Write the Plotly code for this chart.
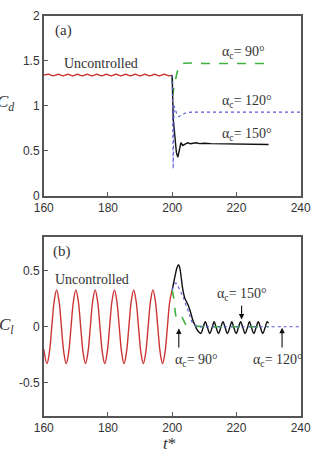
import plotly.graph_objects as go

# ---------------- data ----------------
# (a) drag coefficient, uncontrolled (t*=160..200)
t_cd_unc = [160, 161.5, 163, 164.5, 166, 167.5, 169, 170.5, 172, 173.5, 175, 176.5, 178,
            179.5, 181, 182.5, 184, 185.5, 187, 188.5, 190, 191.5, 193, 194.5, 196, 197.5,
            199, 200]
cd_unc = [1.34, 1.35, 1.333, 1.35, 1.333, 1.35, 1.333, 1.35, 1.333, 1.35, 1.333, 1.35, 1.333,
          1.35, 1.333, 1.35, 1.333, 1.35, 1.333, 1.35, 1.333, 1.35, 1.333, 1.35, 1.333, 1.35,
          1.333, 1.34]

t_cd_90 = [200, 200.15, 200.5, 201.0, 201.5, 202.0, 202.5, 203.0, 203.7, 204.5, 206, 210, 220, 230]
cd_90 = [1.34, 1.12, 1.20, 1.30, 1.37, 1.42, 1.45, 1.465, 1.472, 1.475, 1.475, 1.47, 1.47, 1.47]

t_cd_120 = [200, 200.15, 200.3, 200.6, 201.0, 201.5, 202.0, 202.7, 203.5, 204.5, 206, 210, 220, 240]
cd_120 = [1.34, 0.60, 0.30, 1.00, 0.96, 0.90, 0.88, 0.89, 0.91, 0.925, 0.93, 0.93, 0.93, 0.93]

t_cd_150 = [200, 200.15, 200.3, 200.6, 200.9, 201.3, 201.75, 202.2, 202.7, 203.3, 204.0,
            204.8, 205.6, 206.5, 207.5, 208.5, 210, 212, 214, 216, 218, 220, 222, 225, 230]
cd_150 = [1.34, 0.95, 0.85, 0.75, 0.62, 0.48, 0.43, 0.52, 0.59, 0.56, 0.57,
          0.59, 0.58, 0.585, 0.59, 0.58, 0.585, 0.58, 0.578, 0.58, 0.575, 0.577, 0.575, 0.572, 0.57]

# (b) lift coefficient, uncontrolled
t_cl_unc = [160, 161, 161.75, 162.5, 163.25, 164, 164.75, 165.5, 166.25, 167, 167.75, 168.5,
            169.25, 170, 170.75, 171.5, 172.25, 173, 173.75, 174.5, 175.25, 176, 176.75,
            177.5, 178.25, 179, 179.75, 180.5, 181.25, 182, 182.75, 183.5, 184.25, 185,
            185.75, 186.5, 187.25, 188, 188.75, 189.5, 190.25, 191, 191.75, 192.5, 193.25,
            194, 194.75, 195.5, 196.25, 197, 197.75, 198.5, 199.25, 200]
cl_unc = [-0.20, -0.33, -0.23, 0, 0.23, 0.33, 0.23, 0, -0.23, -0.33, -0.23, 0,
          0.23, 0.33, 0.23, 0, -0.23, -0.33, -0.23, 0, 0.23, 0.33, 0.23,
          0, -0.23, -0.33, -0.23, 0, 0.23, 0.33, 0.23, 0, -0.23, -0.33,
          -0.23, 0, 0.23, 0.33, 0.23, 0, -0.23, -0.33, -0.23, 0, 0.23,
          0.33, 0.23, 0, -0.23, -0.33, -0.23, 0, 0.23, 0.33]

t_cl_90 = [200, 200.5, 201.0, 201.5, 202.0, 202.5, 203.0, 203.5, 204.0, 204.5, 205.5, 207, 210, 220, 230]
cl_90 = [0.33, 0.25, 0.12, 0.06, 0.07, 0.08, 0.085, 0.06, 0.03, 0.015, 0.01, 0.005, 0.0, 0.0, 0.0]

t_cl_120 = [200, 200.5, 201.1, 201.7, 202.3, 203.0, 203.5, 204.2, 205.0, 205.7, 206.4, 207.2, 208, 210, 220, 240]
cl_120 = [0.33, 0.37, 0.39, 0.37, 0.33, 0.29, 0.26, 0.20, 0.14, 0.08, 0.03, 0.01, 0.0, 0.0, 0.0, 0.0]

t_cl_150 = [200, 200.5, 201, 201.5, 202, 202.4, 202.8, 203.2, 203.6, 204, 204.5, 205, 205.5,
            206, 206.5, 207, 207.6, 208.2, 208.9, 209.6, 210.3, 211.0, 211.7, 212.4, 213.05,
            213.7, 214.4, 215.1, 215.8, 216.5, 217.2, 217.9, 218.55, 219.2, 219.9, 220.6,
            221.3, 222.0, 222.7, 223.4, 224.05, 224.7, 225.4, 226.1, 226.8, 227.5, 228.2,
            228.9, 229.55, 230]
cl_150 = [0.33, 0.40, 0.47, 0.53, 0.555, 0.52, 0.44, 0.35, 0.29, 0.25, 0.22, 0.19, 0.15,
          0.10, 0.05, 0.02, -0.02, -0.045, -0.06, -0.01, 0.045, -0.01, -0.06, -0.01, 0.045,
          -0.01, -0.06, -0.01, 0.045, -0.01, -0.06, -0.01, 0.045, -0.01, -0.06, -0.01,
          0.045, -0.01, -0.06, -0.01, 0.045, -0.01, -0.06, -0.01, 0.045, -0.01, -0.06,
          -0.01, 0.045, 0.03]

x_ticks = [160, 180, 200, 220, 240]
cd_ticks = [0, 0.5, 1, 1.5, 2]
cd_ticktext = ["0", "0.5", "1", "1.5", "2"]
cl_ticks = [-0.5, 0, 0.5]
cl_ticktext = ["-0.5", "0", "0.5"]

# ---------------- styles ----------------
RED = "#cc3535"
GREEN = "#3fb23f"
BLUE = "#5a5ad8"
BLACK = "#111111"
FRAME = "#555555"
TXT = "#333333"
SERIF = "Liberation Serif"
SANS = "Liberation Sans"

fig = go.Figure()

def add(t, v, color, dash, width, xa, ya, shape="linear"):
    fig.add_trace(go.Scatter(x=t, y=v, mode="lines", xaxis=xa, yaxis=ya,
                             line=dict(color=color, dash=dash, width=width, shape=shape),
                             showlegend=False, hoverinfo="skip"))

# panel (a)
add(t_cd_unc, cd_unc, RED, "solid", 1.4, "x", "y", "spline")
add(t_cd_90, cd_90, GREEN, "dash", 1.6, "x", "y")
add(t_cd_150, cd_150, BLACK, "solid", 1.4, "x", "y")
add(t_cd_120, cd_120, BLUE, "dot", 1.1, "x", "y")
# panel (b)
add(t_cl_unc, cl_unc, RED, "solid", 1.4, "x2", "y2", "spline")
add(t_cl_150, cl_150, BLACK, "solid", 1.4, "x2", "y2", "spline")
add(t_cl_90, cl_90, GREEN, "dash", 1.6, "x2", "y2", "spline")
add(t_cl_120, cl_120, BLUE, "dot", 1.1, "x2", "y2", "spline")

W, H = 321, 449
xdom = [36 / W, 310 / W]
axis_common = dict(showgrid=False, zeroline=False, showline=True, mirror=True,
                   linecolor=FRAME, linewidth=1.5, ticks="inside", ticklen=4,
                   tickcolor=FRAME, tickwidth=1,
                   tickfont=dict(family=SANS, size=12, color=TXT))

fig.update_layout(
    width=W, height=H,
    margin=dict(l=0, r=0, t=0, b=0),
    paper_bgcolor="white", plot_bgcolor="white",
    xaxis=dict(domain=xdom, range=[160, 240], tickvals=x_ticks, anchor="y", **axis_common),
    yaxis=dict(domain=[1 - 195 / H, 1 - 9 / H], range=[0, 2], tickvals=cd_ticks,
               ticktext=cd_ticktext, anchor="x", **axis_common),
    xaxis2=dict(domain=xdom, range=[160, 240], tickvals=x_ticks, anchor="y2", **axis_common),
    yaxis2=dict(domain=[1 - 422.3 / H, 1 - 237.7 / H], range=[-0.8, 0.8], tickvals=cl_ticks,
                ticktext=cl_ticktext, anchor="x2", **axis_common),
)

def txt(x, y, s, xref="x", yref="y", size=13, family=SERIF, **kw):
    fig.add_annotation(x=x, y=y, xref=xref, yref=yref, text=s, showarrow=False,
                       font=dict(family=family, size=size, color=TXT), **kw)

# panel (a) labels
txt(166.1, 1.84, "(a)", size=15)
txt(177.8, 1.475, "Uncontrolled", size=14)
txt(222.2, 1.595, "α<sub>c</sub>= 90°", size=14)
txt(223.4, 1.045, "α<sub>c</sub>= 120°", size=14)
txt(223.4, 0.68, "α<sub>c</sub>= 150°", size=14)

# panel (b) labels
txt(165.8, 0.675, "(b)", xref="x2", yref="y2", size=15)
txt(174.9, 0.42, "Uncontrolled", xref="x2", yref="y2", size=14)
txt(221.6, 0.285, "α<sub>c</sub>= 150°", xref="x2", yref="y2", size=14)
txt(207.45, -0.30, "α<sub>c</sub>= 90°", xref="x2", yref="y2", size=14)
txt(233.0, -0.30, "α<sub>c</sub>= 120°", xref="x2", yref="y2", size=14)

def arrow(x, y_tip, y_tail):
    fig.add_annotation(x=x, y=y_tip, ax=x, ay=y_tail, xref="x2", yref="y2",
                       axref="x2", ayref="y2", text="", showarrow=True,
                       arrowhead=2, arrowsize=1, arrowwidth=1.1, arrowcolor=BLACK)

arrow(221.6, 0.065, 0.20)
arrow(202.05, -0.015, -0.20)
arrow(234.2, -0.01, -0.20)

# axis titles (as in the original, partly cut at the edges)
txt(6 / W, 1 - 86 / H, "<i>C<sub>d</sub></i>", xref="paper", yref="paper", size=17,
    xanchor="right")
txt(6 / W, 1 - 343 / H, "<i>C<sub>l</sub></i>", xref="paper", yref="paper", size=17,
    xanchor="right")
txt(170 / W, 1 - 439 / H, "<i>t</i>*", xref="paper", yref="paper", size=17,
    yanchor="top")

fig.write_html("out.html")
